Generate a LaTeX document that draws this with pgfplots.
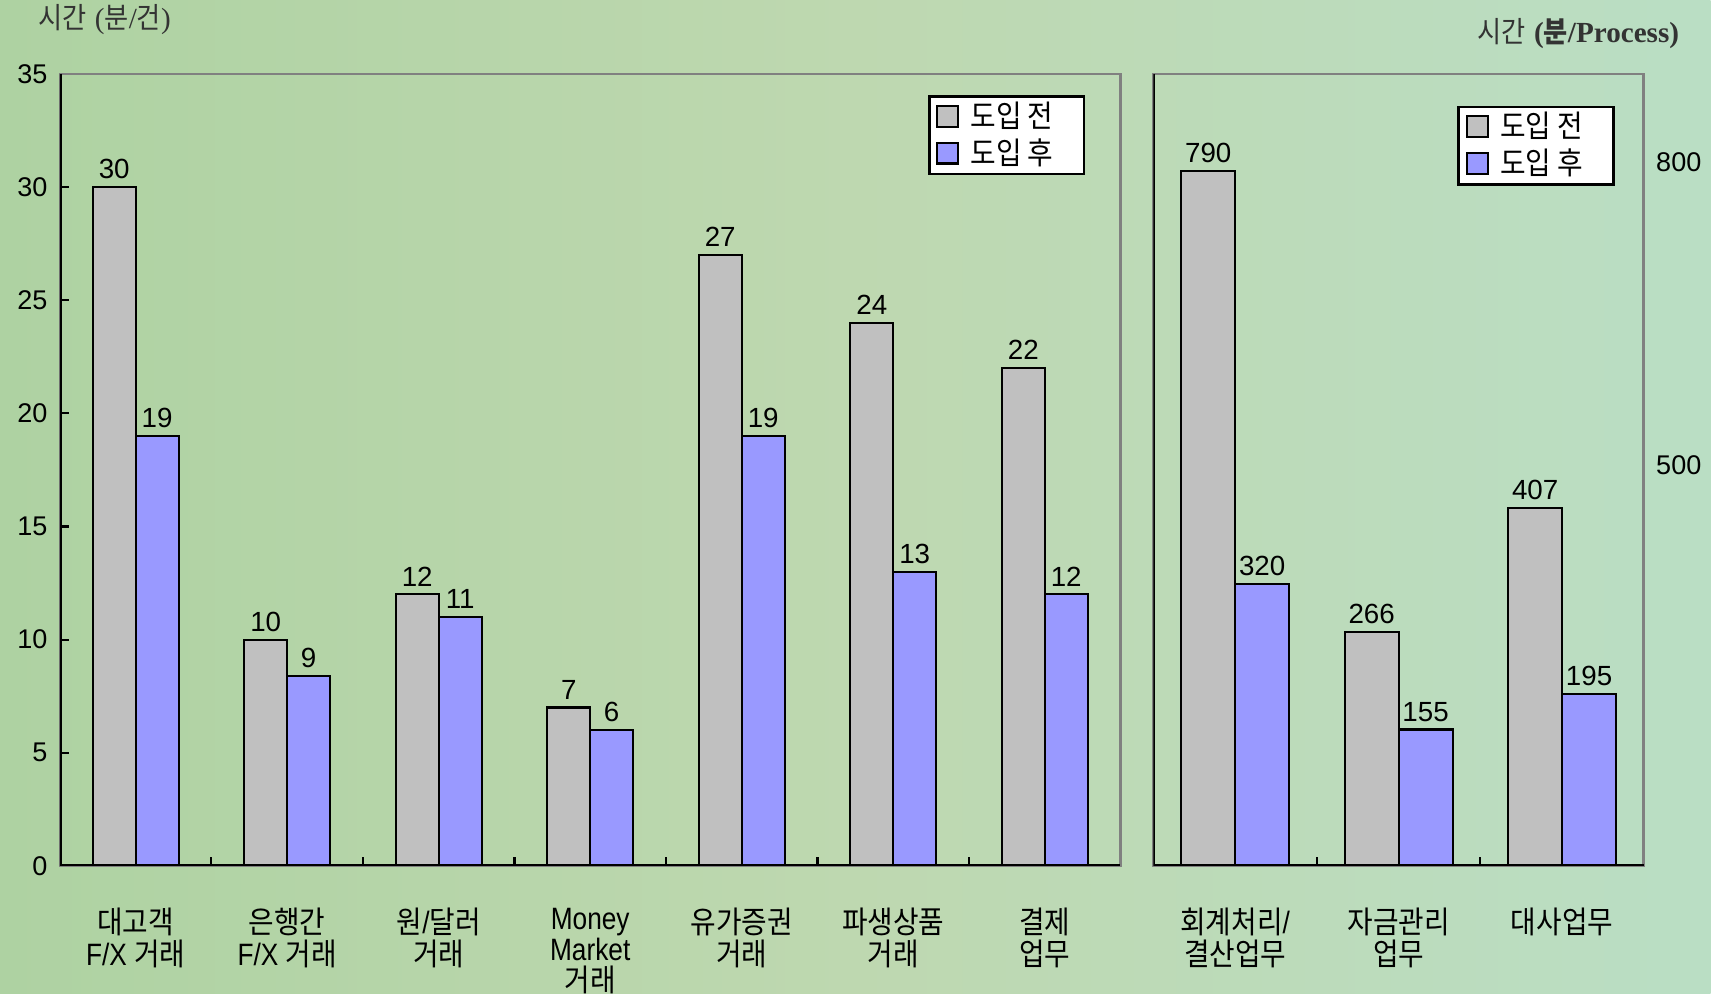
\documentclass[border=0pt]{standalone}
\usepackage{fontspec}
\setmainfont{Liberation Sans}
\newfontfamily\kr[FakeStretch=0.9]{Noto Sans CJK KR}
\newfontfamily\narrow[FakeStretch=0.85]{Liberation Sans}
\newfontfamily\tms{Liberation Serif}
\usepackage{pgfplots}
\usepackage{pgfplotstable}
\pgfplotsset{compat=1.18}

\definecolor{barA}{RGB}{192,192,192}
\definecolor{barB}{RGB}{153,153,255}
\definecolor{frame}{RGB}{128,128,128}
\definecolor{bgL}{RGB}{174,210,162}
\definecolor{bgM}{RGB}{190,216,176}
\definecolor{bgR}{RGB}{186,222,196}
\definecolor{ttl}{RGB}{51,51,51}

% left panel: minutes per item
\pgfplotstableread{
x before blab after alab
0 30 30 19  19
1 10 10 8.4 9
2 12 12 11  11
3 7  7  6   6
4 27 27 19  19
5 24 24 13  13
6 22 22 12  12
}\tabitem

% right panel: minutes per process
\pgfplotstableread{
x before blab after alab
0 790 790 320 320
1 266 266 155 155
2 407 407 195 195
}\tabproc

\newcommand{\pad}{\rule{0pt}{0pt}\kern5.5pt}

\pgfplotsset{
  panel/.style={
    scale only axis, height=7.93cm, ymin=0,
    axis line style={draw=frame, line width=0.8pt},
    xtick pos=bottom, tick align=inside,
    major x tick style={draw=none},
    minor tick length=0.09cm, major tick length=0.09cm,
    every tick/.style={black, line width=0.6pt},
    /pgf/number format/assume math mode=true,
    yticklabel style={font=\fontsize{7.7}{8}\selectfont},
    xticklabel style={font=\fontsize{8.8}{8.9}\selectfont\narrow, align=center, yshift=-0.30cm},
    nodes near coords, point meta=explicit symbolic,
    every node near coord/.style={font=\fontsize{7.9}{8}\selectfont, black, inner sep=2pt},
    legend style={draw=black, line width=0.8pt, fill=white,
      font=\fontsize{8.8}{8.8}\selectfont\kr, inner xsep=2pt, inner ysep=0pt,
      row sep=-1.2pt, cells={anchor=west},
      nodes={inner sep=1.2pt, text height=0.76em, text depth=0.16em}},
  },
  barbox/.style 2 args={ybar, draw=black, line width=0.6pt, fill=#1,
    every node near coord/.append style={xshift=#2},
    legend image code/.code={\draw[fill=#1, draw=black, line width=0.6pt] (0cm,-0.1cm) rectangle (0.21cm,0.11cm); \path (0.28cm,0);}},
}

\begin{document}
\begin{tikzpicture}
\shade[left color=bgL, right color=bgR, middle color=bgM] (0,0) rectangle (17.13,9.95);

\node[anchor=west, text=ttl, font=\fontsize{8.3}{9}\selectfont, inner sep=0pt] at (0.38,9.75)
  {{\kr 시간} {\tms(}{\kr 분}{\tms/}{\kr 건}{\tms)}};
\node[anchor=east, text=ttl, font=\fontsize{8.3}{9}\selectfont, inner sep=0pt] at (16.82,9.61)
  {{\kr 시간} {\tms\bfseries(}{\kr\bfseries 분}{\tms\bfseries/Process)}};

\begin{axis}[panel,
  at={(0.60cm,1.28cm)}, anchor=south west, width=10.62cm,
  xmin=-0.5, xmax=6.5, ymax=35,
  ytick={0,5,...,35}, ytick pos=left,
  xtick={0,...,6},
  minor xtick={-0.5,0.5,...,6.5},
  xticklabels={
    {{\kr 대고객}\\F/X {\kr 거래}},
    {{\kr 은행간}\\F/X {\kr 거래}},
    {{\kr 원}/{\kr 달러}\\{\kr 거래}},
    {Money\\Market\\{\kr 거래}},
    {{\kr 유가증권}\\{\kr 거래}},
    {{\kr 파생상품}\\{\kr 거래}},
    {{\kr 결제}\\{\kr 업무}}},
  legend style={at={(0.967,0.973)}, anchor=north east},
]
\addplot[barbox={barA}{-0.215cm}, bar width=0.43cm, bar shift=-0.215cm] table[x=x, y=before, meta=blab] {\tabitem};
\addplot[barbox={barB}{0.215cm}, bar width=0.43cm, bar shift=0.215cm] table[x=x, y=after, meta=alab] {\tabitem};
\legend{도입 전\pad, 도입 후\pad}
\draw[black, line width=0.9pt] (rel axis cs:0,1) -- (rel axis cs:0,0) -- (rel axis cs:1,0);
\end{axis}

\begin{axis}[panel,
  at={(11.55cm,1.28cm)}, anchor=south west, width=4.91cm,
  xmin=-0.5, xmax=2.5, ymax=900,
  ytick={455,800}, yticklabels={500,800},
  yticklabel pos=right, major y tick style={draw=none},
  xtick={0,1,2},
  minor xtick={0.5,1.5,2.5},
  xticklabels={
    {{\kr 회계처리}/\\{\kr 결산업무}},
    {{\kr 자금관리}\\{\kr 업무}},
    {{\kr 대사업무}}},
  legend style={at={(0.941,0.96)}, anchor=north east},
]
\addplot[barbox={barA}{-0.27cm}, bar width=0.54cm, bar shift=-0.27cm] table[x=x, y=before, meta=blab] {\tabproc};
\addplot[barbox={barB}{0.27cm}, bar width=0.54cm, bar shift=0.27cm] table[x=x, y=after, meta=alab] {\tabproc};
\legend{도입 전\pad, 도입 후\pad}
\draw[black, line width=0.9pt] (rel axis cs:0,1) -- (rel axis cs:0,0) -- (rel axis cs:1,0);
\end{axis}
\end{tikzpicture}
\end{document}
